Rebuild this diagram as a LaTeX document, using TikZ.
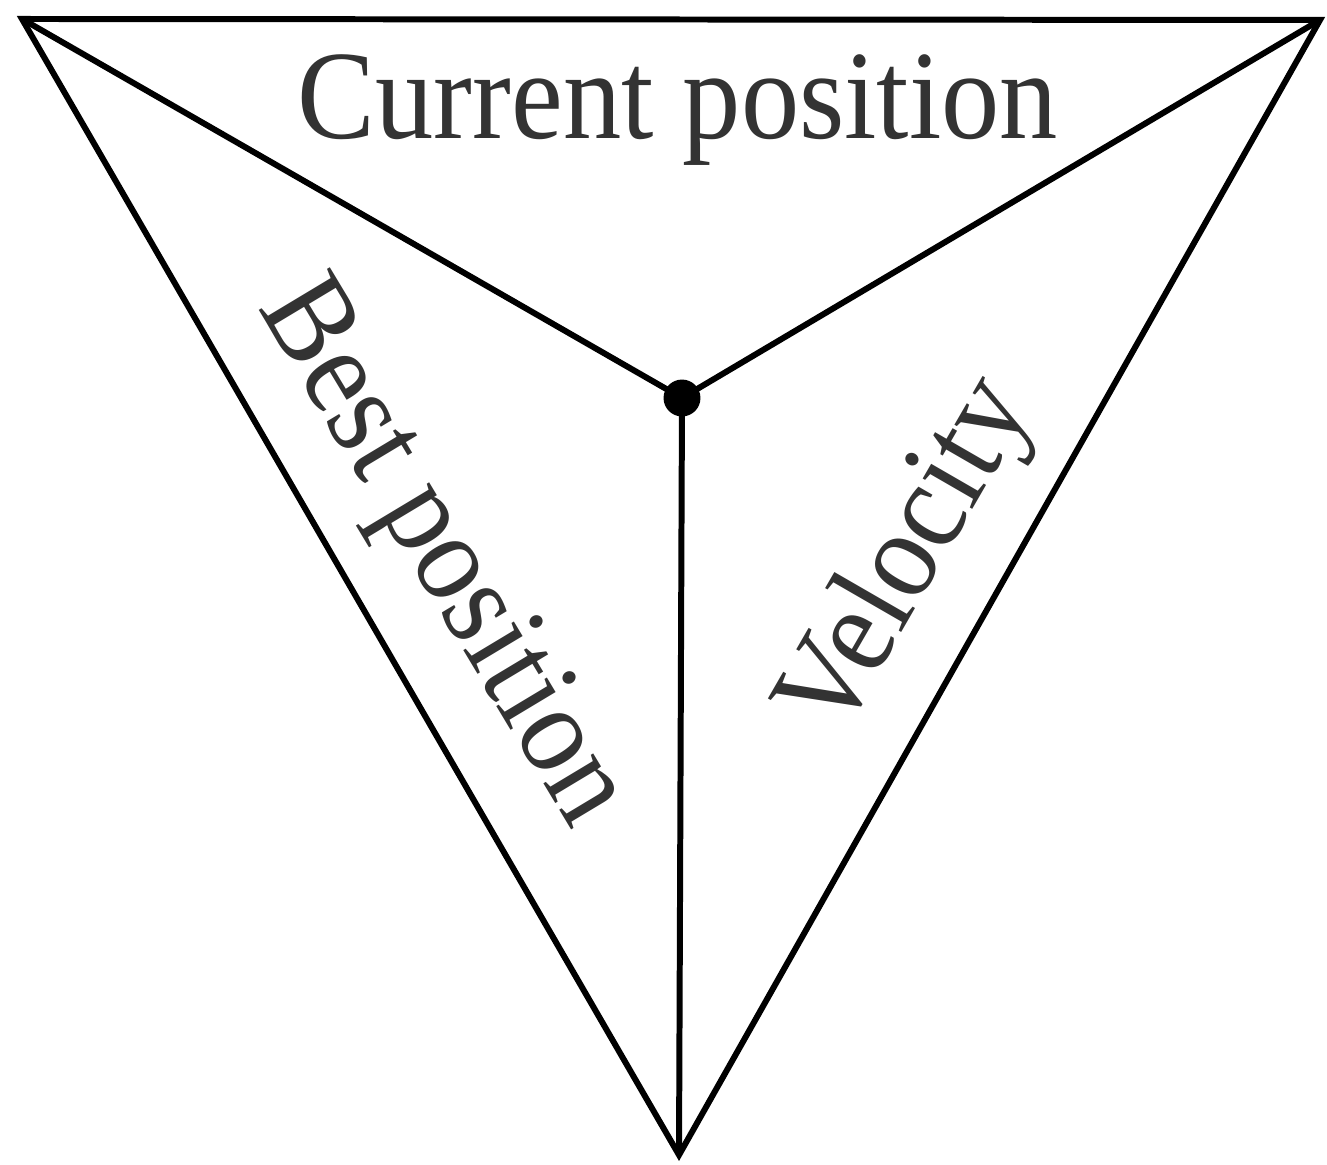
\documentclass[tikz,border=0pt]{standalone}
\usepackage{fontspec}
\setmainfont[FakeStretch=0.92]{Liberation Serif}
\usepackage{xcolor}
\definecolor{cLine}{HTML}{000000}
\definecolor{cText}{HTML}{333333}
\usepackage{tikz}
\usetikzlibrary{positioning,calc}
\tikzset{
  edge-line/.style={draw=cLine,line width=1.7pt,line join=miter},
  node-dot/.style={circle,fill=cLine,inner sep=0pt,minimum size=10.5pt},
  node-label/.style={text=cText,inner sep=0pt,font=\fontsize{36}{40}\selectfont},
}

\begin{document}
\begin{tikzpicture}[x=0.01cm,y=-0.01cm]
  \useasboundingbox (0,0) rectangle (1327,1165);
  % corners of the triangle and the centre point
  \coordinate (tl) at (22,19);
  \coordinate (tr) at (1320,20);
  \coordinate (bot) at (679,1155);
  \node[node-dot] (mid) at (682,398) {};
  \draw[edge-line] (tl) -- (tr) -- (bot) -- cycle;
  \draw[edge-line] (tl) -- (mid.center);
  \draw[edge-line] (tr) -- (mid.center);
  \draw[edge-line] (mid.center) -- (bot);
  % labels
  \node[node-label,anchor=base] (cur) at (678,139) {Current position};
  \node[node-label,rotate=-59] (best) at (439,555) {Best position};
  \node[node-label,rotate=60] (vel) at (910,558) {Velocity};
\end{tikzpicture}
\end{document}
